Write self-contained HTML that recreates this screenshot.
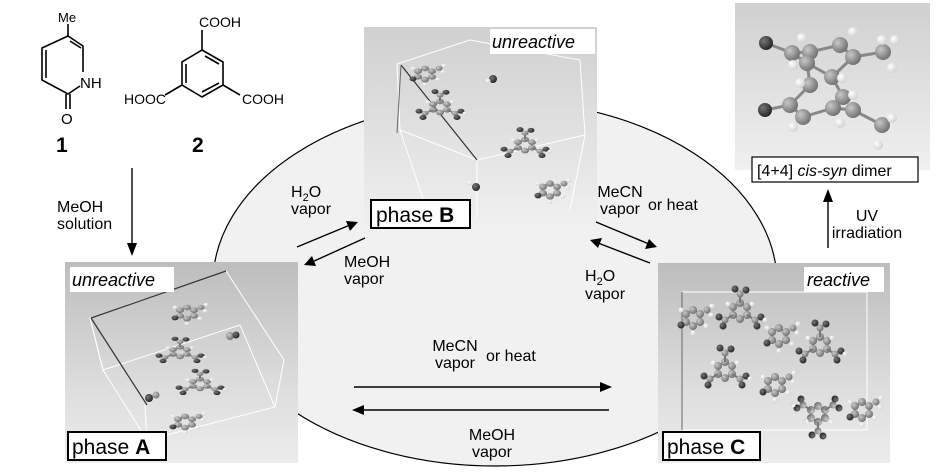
<!DOCTYPE html>
<html><head><meta charset="utf-8"><style>
html,body{margin:0;padding:0;background:#fff}
svg{display:block}
text{font-family:"Liberation Sans",Arial,sans-serif;fill:#000}
</style></head><body>
<svg width="946" height="473" viewBox="0 0 946 473" xmlns="http://www.w3.org/2000/svg">
<defs>
<linearGradient id="pg" x1="0" y1="0" x2="0" y2="1">
<stop offset="0" stop-color="#bdbdbd"/><stop offset="0.6" stop-color="#dcdcdc"/><stop offset="1" stop-color="#ececec"/></linearGradient>
<linearGradient id="pg2" x1="0" y1="0" x2="0" y2="1">
<stop offset="0" stop-color="#d0d0d0"/><stop offset="1" stop-color="#f0f0f0"/></linearGradient>
<radialGradient id="bg" cx="0.35" cy="0.35" r="0.7"><stop offset="0" stop-color="#c8c8c8"/><stop offset="1" stop-color="#6e6e6e"/></radialGradient>
<radialGradient id="bd" cx="0.35" cy="0.35" r="0.7"><stop offset="0" stop-color="#777"/><stop offset="1" stop-color="#222"/></radialGradient>
<radialGradient id="bw" cx="0.35" cy="0.35" r="0.7"><stop offset="0" stop-color="#fff"/><stop offset="1" stop-color="#cfcfcf"/></radialGradient>
<g id="ring">
<polygon points="0,-8 7,-4 7,4 0,8 -7,4 -7,-4" fill="none" stroke="#777" stroke-width="2"/>
<circle cx="0" cy="-8" r="4" fill="url(#bg)"/><circle cx="7" cy="-4" r="4" fill="url(#bg)"/><circle cx="7" cy="4" r="4" fill="url(#bg)"/>
<circle cx="0" cy="8" r="4" fill="url(#bg)"/><circle cx="-7" cy="4" r="4" fill="url(#bg)"/><circle cx="-7" cy="-4" r="4" fill="url(#bg)"/>
</g>
<g id="acid">
<use href="#ring"/>
<line x1="0" y1="-8" x2="0" y2="-17" stroke="#777" stroke-width="2"/><circle cx="0" cy="-17" r="3.5" fill="url(#bg)"/>
<circle cx="-5" cy="-22" r="3.5" fill="url(#bd)"/><circle cx="6" cy="-21" r="3.5" fill="url(#bd)"/>
<line x1="7" y1="4" x2="15" y2="9" stroke="#777" stroke-width="2"/><circle cx="15" cy="9" r="3.5" fill="url(#bg)"/>
<circle cx="21" cy="6" r="3.5" fill="url(#bd)"/><circle cx="17" cy="15" r="3.5" fill="url(#bd)"/>
<line x1="-7" y1="4" x2="-15" y2="9" stroke="#777" stroke-width="2"/><circle cx="-15" cy="9" r="3.5" fill="url(#bg)"/>
<circle cx="-21" cy="6" r="3.5" fill="url(#bd)"/><circle cx="-17" cy="15" r="3.5" fill="url(#bd)"/>
<circle cx="-12" cy="-7" r="2.5" fill="url(#bw)"/><circle cx="12" cy="-7" r="2.5" fill="url(#bw)"/><circle cx="25" cy="9" r="2.5" fill="url(#bw)"/>
</g>
<g id="pyr">
<use href="#ring"/>
<circle cx="-12" cy="7" r="3.5" fill="url(#bd)"/>
<circle cx="14" cy="-8" r="3.5" fill="url(#bg)"/>
<circle cx="0" cy="15" r="2.5" fill="url(#bw)"/><circle cx="13" cy="8" r="2.5" fill="url(#bw)"/><circle cx="-12" cy="-8" r="2.5" fill="url(#bw)"/><circle cx="19" cy="-12" r="2.5" fill="url(#bw)"/><circle cx="18" cy="-3" r="2.5" fill="url(#bw)"/>
</g>
</defs>

<ellipse cx="495" cy="283" rx="282" ry="183" fill="#f1f1f1" stroke="#000" stroke-width="1.2"/>

<!-- compound 1 -->
<g stroke="#000" stroke-width="1.6" fill="none">
<line x1="68" y1="24" x2="68" y2="36"/>
<polyline points="68,36 83,46 83,72"/>
<line x1="70" y1="41" x2="81" y2="48"/>
<polyline points="80,86 68,94 42,80 42,48 68,36"/>
<line x1="46" y1="50" x2="46" y2="78"/>
<line x1="66" y1="94" x2="66" y2="109"/><line x1="70" y1="94" x2="70" y2="109"/>
</g>
<text x="58" y="22" font-size="13">Me</text>
<text x="80" y="88" font-size="15">NH</text>
<text x="61" y="124" font-size="15">O</text>
<text x="56" y="152" font-size="21" font-weight="bold">1</text>
<!-- compound 2 -->
<g stroke="#000" stroke-width="1.6" fill="none">
<polygon points="202,50 223,62 223,85 202,97 182,85 182,62"/>
<line x1="205" y1="56" x2="219" y2="64"/><line x1="219" y1="83" x2="202" y2="92"/><line x1="186" y1="64" x2="186" y2="83"/>
<line x1="202" y1="50" x2="202" y2="30"/>
<line x1="182" y1="85" x2="165" y2="95"/>
<line x1="223" y1="85" x2="240" y2="95"/>
</g>
<text x="199" y="27" font-size="14">COOH</text>
<text x="124" y="104" font-size="14">HOOC</text>
<text x="242" y="104" font-size="14">COOH</text>
<text x="192" y="152" font-size="21" font-weight="bold">2</text>

<line x1="132" y1="168" x2="132" y2="245" stroke="#000" stroke-width="1.4"/>
<polygon points="127,243 137,243 132,256" fill="#000"/>
<text x="57" y="212" font-size="16">MeOH</text>
<text x="57" y="229" font-size="16">solution</text>

<!-- phase B panel -->
<rect x="364" y="27" width="233" height="200" fill="url(#pg2)"/>
<g stroke="#fff" stroke-width="1" fill="none"><polygon points="397,64 470,40 580,60 585,135 477,160 400,130"/><line x1="477" y1="160" x2="477" y2="218"/><line x1="400" y1="130" x2="430" y2="220"/><line x1="585" y1="135" x2="570" y2="210"/></g>
<line x1="401" y1="65" x2="477" y2="160" stroke="#333" stroke-width="1.2"/><line x1="401" y1="65" x2="397" y2="133" stroke="#666"/>
<use href="#pyr" transform="translate(425,74) scale(1,0.7)"/>
<use href="#acid" transform="translate(440,107) scale(1,0.7)"/>
<use href="#acid" transform="translate(525,145) scale(1,0.7)"/>
<use href="#pyr" transform="translate(550,190) scale(1,0.8)"/>
<circle cx="493" cy="79" r="4" fill="url(#bd)"/><circle cx="488" cy="81" r="2.5" fill="url(#bw)"/>
<circle cx="476" cy="187" r="4" fill="url(#bd)"/><circle cx="470" cy="183" r="2.5" fill="url(#bw)"/>
<rect x="490" y="29" width="105" height="25" fill="#fff"/>
<text x="492" y="48" font-size="18" font-style="italic">unreactive</text>
<rect x="371" y="200" width="99" height="28" fill="#fff" stroke="#000" stroke-width="2"/>
<text x="376" y="222" font-size="21">phase <tspan font-weight="bold">B</tspan></text>

<!-- phase A panel -->
<rect x="65" y="262" width="233" height="201" fill="url(#pg)"/>
<g stroke="#fff" stroke-width="1" fill="none"><polygon points="90,318 226,271 284,360 275,407 147,440 103,370"/><line x1="90" y1="318" x2="103" y2="370"/><line x1="103" y1="370" x2="240" y2="325"/><line x1="240" y1="325" x2="275" y2="407"/><line x1="145" y1="405" x2="147" y2="440"/></g>
<line x1="91" y1="318" x2="226" y2="271" stroke="#333" stroke-width="1.2"/><line x1="91" y1="318" x2="147" y2="405" stroke="#333" stroke-width="1.2"/>
<use href="#pyr" transform="translate(187,313) scale(1,0.7)"/>
<use href="#acid" transform="translate(180,352) scale(1,0.6)"/>
<use href="#acid" transform="translate(200,384) scale(1,0.6)"/>
<use href="#pyr" transform="translate(185,422) scale(1,0.7)"/>
<circle cx="149" cy="398" r="4" fill="url(#bd)"/><circle cx="156" cy="395" r="3.5" fill="url(#bg)"/>
<circle cx="230" cy="336" r="4" fill="url(#bg)"/><circle cx="236" cy="335" r="3.5" fill="url(#bd)"/>
<rect x="70" y="267" width="104" height="25" fill="#fff"/>
<text x="72" y="286" font-size="18" font-style="italic">unreactive</text>
<rect x="68" y="432" width="98" height="28" fill="#fff" stroke="#000" stroke-width="2"/>
<text x="72" y="454" font-size="21">phase <tspan font-weight="bold">A</tspan></text>

<!-- phase C panel -->
<rect x="658" y="263" width="232" height="200" fill="url(#pg)"/>
<rect x="682" y="292" width="185" height="138" fill="none" stroke="#fff" stroke-width="1"/>
<line x1="682" y1="292" x2="682" y2="430" stroke="#666"/>
<use href="#acid" transform="translate(740,311)"/>
<use href="#acid" transform="translate(725,370)"/>
<use href="#acid" transform="translate(820,345)"/>
<use href="#acid" transform="translate(818,414) rotate(180)"/>
<use href="#pyr" transform="translate(693,318)"/>
<use href="#pyr" transform="translate(779,336)"/>
<use href="#pyr" transform="translate(775,385)"/>
<use href="#pyr" transform="translate(862,410)"/>
<rect x="804" y="267" width="80" height="25" fill="#fff"/>
<text x="807" y="286" font-size="18" font-style="italic">reactive</text>
<rect x="663" y="432" width="97" height="28" fill="#fff" stroke="#000" stroke-width="2"/>
<text x="667" y="454" font-size="21">phase <tspan font-weight="bold">C</tspan></text>

<!-- dimer panel -->
<rect x="735" y="3" width="195" height="167" fill="url(#pg2)"/>
<g stroke="#888" stroke-width="3" fill="none">
<polyline points="766,43 792,53 810,52 840,45 853,57 883,52"/><line x1="792" y1="53" x2="807" y2="63"/><line x1="807" y1="63" x2="832" y2="77"/><line x1="832" y1="77" x2="853" y2="57"/><line x1="807" y1="63" x2="810" y2="85"/><line x1="832" y1="77" x2="843" y2="97"/>
<polyline points="765,110 790,105 803,117 833,108 853,110 882,125"/><line x1="810" y1="85" x2="790" y2="105"/><line x1="843" y1="97" x2="833" y2="108"/>
</g>
<g>
<circle cx="766" cy="43" r="7" fill="url(#bd)"/><circle cx="765" cy="110" r="7" fill="url(#bd)"/>
<circle cx="792" cy="53" r="8" fill="url(#bg)"/><circle cx="810" cy="52" r="8" fill="url(#bg)"/><circle cx="840" cy="45" r="8" fill="url(#bg)"/><circle cx="853" cy="57" r="8" fill="url(#bg)"/><circle cx="883" cy="52" r="8" fill="url(#bg)"/><circle cx="807" cy="63" r="8" fill="url(#bg)"/><circle cx="832" cy="77" r="8" fill="url(#bg)"/><circle cx="810" cy="85" r="8" fill="url(#bg)"/>
<circle cx="790" cy="105" r="8" fill="url(#bg)"/><circle cx="803" cy="117" r="8" fill="url(#bg)"/><circle cx="843" cy="97" r="8" fill="url(#bg)"/><circle cx="833" cy="108" r="8" fill="url(#bg)"/><circle cx="853" cy="110" r="8" fill="url(#bg)"/><circle cx="882" cy="125" r="8" fill="url(#bg)"/>
<circle cx="802" cy="38" r="5" fill="url(#bw)"/><circle cx="853" cy="32" r="5" fill="url(#bw)"/><circle cx="882" cy="40" r="5" fill="url(#bw)"/><circle cx="895" cy="40" r="5" fill="url(#bw)"/><circle cx="892" cy="68" r="5" fill="url(#bw)"/><circle cx="793" cy="65" r="5" fill="url(#bw)"/><circle cx="842" cy="78" r="5" fill="url(#bw)"/><circle cx="800" cy="83" r="5" fill="url(#bw)"/><circle cx="853" cy="95" r="5" fill="url(#bw)"/><circle cx="892" cy="118" r="5" fill="url(#bw)"/><circle cx="878" cy="145" r="5" fill="url(#bw)"/><circle cx="793" cy="127" r="5" fill="url(#bw)"/><circle cx="840" cy="123" r="5" fill="url(#bw)"/>
</g>
<rect x="752" y="157" width="166" height="25" fill="#fff" stroke="#000" stroke-width="1.2"/>
<text x="757" y="176" font-size="16">[4+4] <tspan font-style="italic">cis-syn</tspan> dimer</text>

<line x1="828" y1="248" x2="828" y2="200" stroke="#000" stroke-width="1.4"/>
<polygon points="823,202 833,202 828,189" fill="#000"/>
<text x="867" y="221" font-size="16" text-anchor="middle">UV</text>
<text x="867" y="238" font-size="16" text-anchor="middle">irradiation</text>

<line x1="297" y1="247" x2="350" y2="225" stroke="#000" stroke-width="1.4"/>
<polygon points="358,222 346,221 350,231" fill="#000"/>
<line x1="365" y1="238" x2="312" y2="262" stroke="#000" stroke-width="1.4"/>
<polygon points="304,265 312,256 316,266" fill="#000"/>
<text x="291" y="197" font-size="16">H<tspan font-size="11" dy="4">2</tspan><tspan dy="-4">O</tspan></text>
<text x="291" y="214" font-size="16">vapor</text>
<text x="344" y="267" font-size="16">MeOH</text>
<text x="344" y="284" font-size="16">vapor</text>

<line x1="596" y1="222" x2="649" y2="244" stroke="#000" stroke-width="1.4"/>
<polygon points="657,247 645,249 649,239" fill="#000"/>
<line x1="650" y1="263" x2="598" y2="243" stroke="#000" stroke-width="1.4"/>
<polygon points="590,240 602,238 598,248" fill="#000"/>
<text x="620" y="197" font-size="16" text-anchor="middle">MeCN</text>
<text x="620" y="214" font-size="16" text-anchor="middle">vapor</text>
<text x="648" y="210" font-size="16">or  heat</text>
<text x="585" y="281" font-size="16">H<tspan font-size="11" dy="4">2</tspan><tspan dy="-4">O</tspan></text>
<text x="585" y="299" font-size="16">vapor</text>

<line x1="354" y1="387" x2="603" y2="387" stroke="#000" stroke-width="1.4"/>
<polygon points="612,387 600,382 600,392" fill="#000"/>
<line x1="609" y1="410" x2="360" y2="410" stroke="#000" stroke-width="1.4"/>
<polygon points="352,410 364,405 364,415" fill="#000"/>
<text x="455" y="351" font-size="16" text-anchor="middle">MeCN</text>
<text x="455" y="368" font-size="16" text-anchor="middle">vapor</text>
<text x="486" y="361" font-size="16">or  heat</text>
<text x="492" y="440" font-size="16" text-anchor="middle">MeOH</text>
<text x="492" y="457" font-size="16" text-anchor="middle">vapor</text>
</svg>
</body></html>
